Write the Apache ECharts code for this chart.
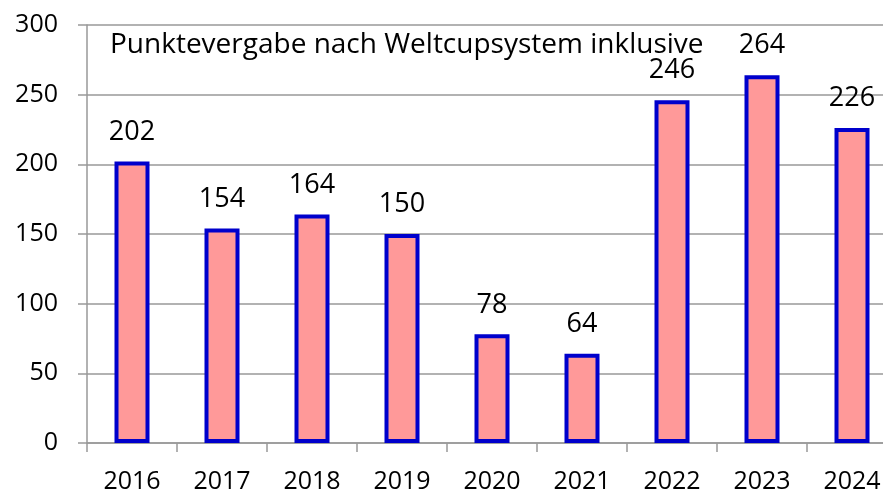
<!DOCTYPE html>
<html>
<head>
<meta charset="utf-8">
<script src="https://cdn.jsdelivr.net/npm/echarts@6/dist/echarts.min.js"></script>
<style>
  html, body { margin: 0; padding: 0; background: #fff; }
  #chart { width: 883px; height: 491px; }
</style>
</head>
<body>
<div id="chart"></div>
<script>
  var years = ['2016', '2017', '2018', '2019', '2020', '2021', '2022', '2023', '2024'];
  var points = [202, 154, 164, 150, 78, 64, 246, 264, 226];
  var titleText = 'Punktevergabe nach Weltcupsystem inklusive';

  var fontFam = '"Open Sans", "Noto Sans", sans-serif';
  var myChart = echarts.init(document.getElementById('chart'));
  var chartOption = {
    animation: false,
    title: {
      text: titleText,
      left: 105,
      top: 26,
      textStyle: { color: '#000', fontSize: 28, fontWeight: 'normal', fontFamily: fontFam }
    },
    grid: { left: 87, right: -14, top: 25, bottom: 48, outerBoundsMode: 'none', containLabel: false },
    xAxis: {
      type: 'category',
      data: years,
      axisLine: { lineStyle: { color: '#999', width: 1.5 } },
      axisTick: { show: true, length: 9, lineStyle: { color: '#999', width: 1.5 } },
      axisLabel: { color: '#000', fontSize: 25, fontFamily: fontFam, margin: 26 }
    },
    yAxis: {
      type: 'value',
      min: 0,
      max: 300,
      interval: 50,
      axisLine: { show: true, lineStyle: { color: '#999', width: 1.5 } },
      axisTick: { show: true, length: 9, lineStyle: { color: '#999', width: 1.5 } },
      splitLine: { lineStyle: { color: '#999', width: 1.5 } },
      axisLabel: { color: '#000', fontSize: 25, fontFamily: fontFam, margin: 29 }
    },
    series: [
      {
        type: 'bar',
        data: points,
        barWidth: 35,
        itemStyle: { color: '#FF9999', borderColor: '#0000CC', borderWidth: 4 },
        label: {
          show: true,
          position: 'top',
          distance: 16,
          color: '#000',
          fontSize: 27,
          fontFamily: fontFam
        }
      }
    ]
  };
  myChart.setOption(chartOption);
</script>
</body>
</html>
